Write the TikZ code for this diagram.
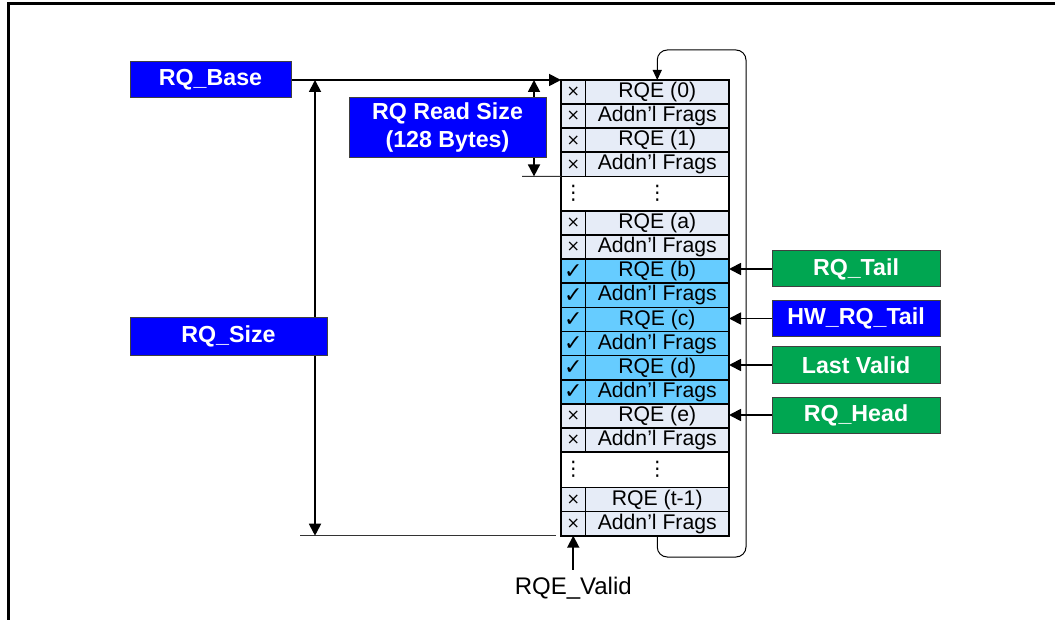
\documentclass[tikz,border=0pt]{standalone}
\usepackage{fontspec}
\setmainfont{Liberation Sans}
\newfontfamily\symf{DejaVu Sans}
\usetikzlibrary{arrows.meta,positioning}
\definecolor{rqblue}{RGB}{0,0,255}
\definecolor{rqgreen}{RGB}{0,166,81}
\definecolor{rqidle}{RGB}{230,236,247}
\definecolor{rqlive}{RGB}{102,204,255}
\newcommand\xmark{{\symf\fontsize{8}{9}\selectfont ×}}
\newcommand\cmark{{\symf\fontsize{11}{12}\selectfont ✓}}

\begin{document}
\begin{tikzpicture}[x=0.5pt, y=-0.5pt, >={Triangle[length=6pt,width=6pt]},
  chk/.style={draw, line width=0.8pt, outer sep=0pt, inner sep=0pt,
    minimum width=12.25pt, minimum height=12.05pt, font=\fontsize{9}{10}\selectfont},
  cell/.style={draw, line width=0.8pt, outer sep=0pt, inner sep=0pt,
    minimum width=71.75pt, minimum height=12.05pt, text height=7.6pt, text depth=2pt,
    font=\fontsize{10.6}{12}\selectfont},
  gapbox/.style={draw, line width=0.8pt, fill=white, outer sep=0pt, inner sep=0pt,
    minimum width=84pt},
  vdot/.style={inner sep=0pt, font=\symf\fontsize{10}{10}\selectfont},
  reg/.style={draw=black!75, line width=0.5pt, text=white, inner sep=0pt,
    minimum height=18pt, align=center, font=\fontsize{11.6}{14}\selectfont\bfseries},
  link/.style={->, line width=0.9pt},
  tick/.style={line width=0.6pt, black!80}]
\useasboundingbox (0,0) rectangle (1055,620);
\draw[line width=1.5pt] (8,620) -- (8,4) -- (1055,4);

% receive queue entries
\foreach \i/\yy/\m/\t/\f in {1/80/\xmark/RQE (0)/rqidle, 2/104.1/\xmark/Addn’l Frags/rqidle,
    3/128.2/\xmark/RQE (1)/rqidle, 4/152.3/\xmark/Addn’l Frags/rqidle,
    5/211/\xmark/RQE (a)/rqidle, 6/235.1/\xmark/Addn’l Frags/rqidle,
    7/259.2/\cmark/RQE (b)/rqlive, 8/283.3/\cmark/Addn’l Frags/rqlive,
    9/307.4/\cmark/RQE (c)/rqlive, 10/331.5/\cmark/Addn’l Frags/rqlive,
    11/355.6/\cmark/RQE (d)/rqlive, 12/379.7/\cmark/Addn’l Frags/rqlive,
    13/403.8/\xmark/RQE (e)/rqidle, 14/427.9/\xmark/Addn’l Frags/rqidle,
    15/487.5/\xmark/RQE (t-1)/rqidle, 16/511.6/\xmark/Addn’l Frags/rqidle} {
  \node[chk, fill=\f, anchor=north west] (c\i) at (561,\yy) {\m};
  \node[cell, fill=\f, anchor=west] (t\i) at (c\i.east) {\t};
}
\node[gapbox, minimum height=17.3pt, anchor=north west] (gapA) at (c4.south west) {};
\node[gapbox, minimum height=17.75pt, anchor=north west] (gapB) at (c14.south west) {};
\node[vdot] (dotsA1) at (gapA -| c4) {⋮};
\node[vdot] (dotsA2) at (gapA -| t4) {⋮};
\node[vdot] (dotsB1) at (gapB -| c14) {⋮};
\node[vdot] (dotsB2) at (gapB -| t14) {⋮};

% wrap around
\coordinate (wrapB) at (746,557);
\coordinate (wrapT) at (746,50);
\draw[->, >={Triangle[length=5pt,width=4.5pt]}, line width=0.5pt, rounded corners=5pt]
  (t16.south) |- (wrapB) -- (wrapT) -| (t1.north);

% base and sizes
\node[reg, fill=rqblue, minimum width=80.5pt] (base) at (210.5,80) {RQ\_Base};
\draw[link] (base.east) -- (c1.north west);

\coordinate (sizeTop) at (315,80);
\coordinate (sizeL) at (300,535.7);
\coordinate (sizeR) at (556,535.7);
\draw[tick] (sizeL) -- (sizeR);
\draw[link, <->] (sizeTop) -- (sizeTop |- sizeL);
\node[reg, fill=rqblue, minimum width=98.5pt, minimum height=18.5pt] (size) at (228.5,336.5) {RQ\_Size};

\coordinate (readTop) at (534,80);
\coordinate (readL) at (522,176.4);
\draw[tick] (readL) -- (c4.south west);
\draw[link, <->] (readTop) -- (readTop |- readL);
\node[reg, fill=rqblue, minimum width=98.5pt, minimum height=30pt] (read) at (447.5,128)
  {RQ Read Size\\(128 Bytes)};

% pointers
\node[reg, fill=rqgreen, minimum width=84pt] (tail) at (856,269) {RQ\_Tail};
\node[reg, fill=rqblue, minimum width=84pt] (hwtail) at (856,318.5) {HW\_RQ\_Tail};
\node[reg, fill=rqgreen, minimum width=84pt] (last) at (856,365) {Last Valid};
\node[reg, fill=rqgreen, minimum width=84pt] (head) at (856,415) {RQ\_Head};
\foreach \b/\r in {tail/7, hwtail/9, last/11, head/13}
  \draw[link] (\b.west) -- (\b.west -| t\r.east);

\node[font=\fontsize{12}{14}\selectfont] (valid) at (573.25,588) {RQE\_Valid};
\draw[link] (valid.north) -- (c16.south);
\end{tikzpicture}
\end{document}
